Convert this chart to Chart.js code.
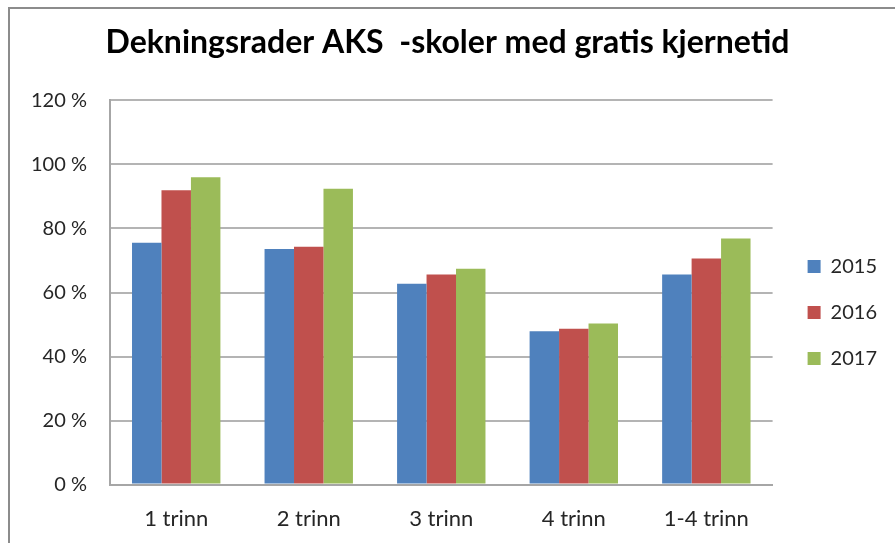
<!DOCTYPE html>
<html>
<head>
<meta charset="utf-8">
<script src="https://cdn.jsdelivr.net/npm/chart.js@4"></script>
<style>
  html, body { margin: 0; padding: 0; background: #fff; overflow: hidden; }
  #ramme { position: absolute; left: 8px; top: 7px; width: 895px; height: 543px;
           border-left: 2px solid #8c8c8c; border-top: 2px solid #8c8c8c; }
  #boks { position: absolute; left: 0; top: 0; width: 895px; height: 543px; }
</style>
</head>
<body>
<div id="ramme"></div>
<div id="boks"><canvas id="graf"></canvas></div>
<script>
// trinn og dekningsrader (andel)
const trinn = ["1 trinn", "2 trinn", "3 trinn", "4 trinn", "1-4 trinn"];
const aar = ["2015", "2016", "2017"];
const dekning2015 = [0.755, 0.736, 0.627, 0.479, 0.656];
const dekning2016 = [0.919, 0.743, 0.656, 0.487, 0.706];
const dekning2017 = [0.960, 0.924, 0.674, 0.503, 0.769];
const yTicks = [0, 0.2, 0.4, 0.6, 0.8, 1.0, 1.2];

const farger = ["#4f81bd", "#c0504d", "#9bbb59"];
const verdier = [dekning2015, dekning2016, dekning2017];

const fontNavn = "Lato, 'Open Sans', sans-serif";
const tekstFarge = '#262626';

const datasett = aar.map((a, i) => ({
    label: a,
    data: verdier[i],
    backgroundColor: farger[i],
    borderWidth: 0,
    categoryPercentage: 0.667,
    barPercentage: 1.0
}));

const config = {
    type: 'bar',
    data: { labels: trinn, datasets: datasett },
    options: {
        responsive: true,
        maintainAspectRatio: false,
        animation: false,
        layout: { padding: { left: 8, right: 8, top: 10, bottom: -10 } },
        plugins: {
            title: {
                display: true,
                text: 'Dekningsrader AKS  -skoler med gratis kjernetid',
                color: '#000',
                font: { family: fontNavn, size: 32, weight: 'bold' },
                padding: { top: 13, bottom: 39 }
            },
            legend: {
                position: 'right',
                title: { display: true, text: ' ', padding: 19, font: { size: 20 } },
                labels: {
                    boxWidth: 13,
                    boxHeight: 13,
                    padding: 26,
                    color: tekstFarge,
                    font: { family: fontNavn, size: 20 }
                }
            },
            tooltip: { enabled: false }
        },
        scales: {
            x: {
                grid: { display: false, drawTicks: false },
                border: { display: true, color: '#a6a6a6', width: 2 },
                ticks: { color: tekstFarge, padding: 21, font: { family: fontNavn, size: 22 } }
            },
            y: {
                min: 0,
                max: 1.2,
                afterBuildTicks: skala => { skala.ticks = yTicks.map(v => ({ value: v })); },
                grid: { color: '#b4b4b4', lineWidth: 2, drawTicks: false },
                border: { display: true, color: '#a6a6a6', width: 2 },
                ticks: {
                    color: tekstFarge,
                    padding: 23,
                    font: { family: fontNavn, size: 20 },
                    callback: v => Math.round(v * 100) + ' %'
                }
            },
            // tom akse til høyre, gir luft mellom plottet og forklaringen
            luft: {
                position: 'right',
                display: true,
                grid: { display: false },
                border: { display: false },
                ticks: { display: false },
                afterFit: skala => { skala.width = 9; }
            }
        }
    }
};

var ctx = document.getElementById('graf').getContext('2d');
var minGraf = new Chart(ctx, config);
</script>
</body>
</html>
